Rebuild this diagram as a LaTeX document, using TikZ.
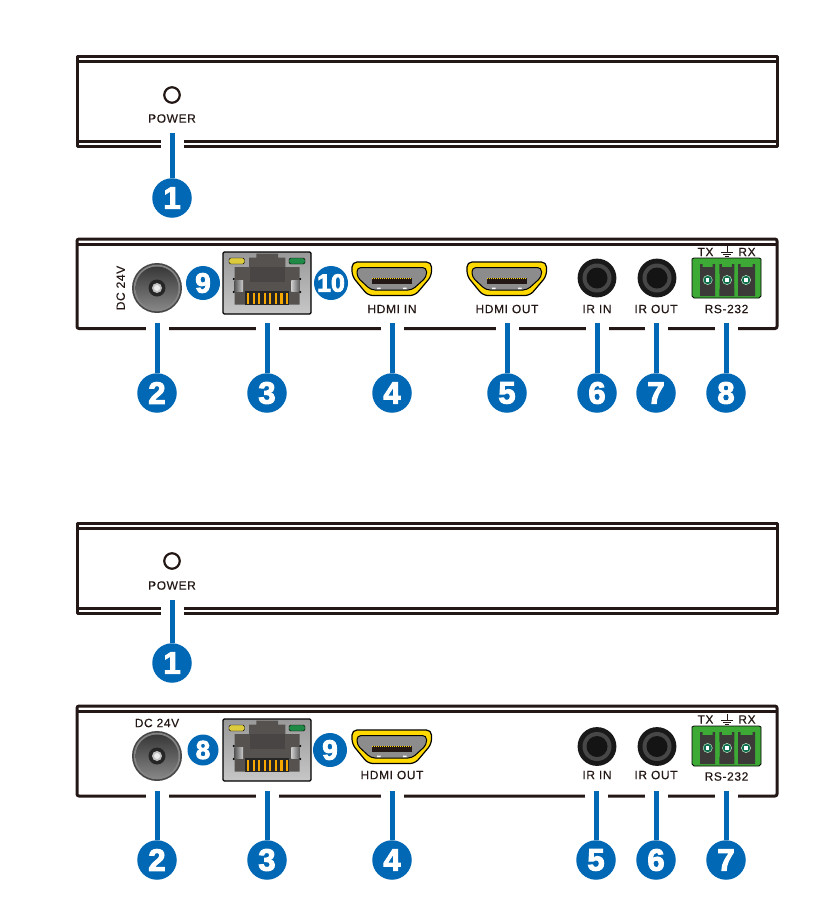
\documentclass[tikz,border=0pt]{standalone}
\usepackage{fontspec}
\setmainfont{Liberation Sans}
\newfontfamily\lblfont[LetterSpace=5,FakeBold=0.35]{Liberation Sans}
\newfontfamily\badgefont[FakeBold=3.2]{Liberation Sans Bold}
\definecolor{inkk}{HTML}{231815}
\definecolor{blu}{HTML}{0068B4}
\definecolor{hdmiy}{HTML}{FFD900}
\definecolor{hdmio}{HTML}{F6A800}
\definecolor{hdmig}{HTML}{8C8C8C}
\definecolor{rjbody}{HTML}{56524F}
\definecolor{rjin}{HTML}{494544}
\definecolor{tgreen}{HTML}{3DAA35}
\definecolor{tdark}{HTML}{3B3A38}
\definecolor{tteal}{HTML}{0E6E50}
\definecolor{ledy}{HTML}{DCCB3C}
\definecolor{ledg}{HTML}{1E8A45}
\tikzset{
  housing/.style={draw=inkk,line width=3pt,line join=round},
  lbl/.style={inner sep=0pt,text=inkk,font=\fontsize{12}{12}\lblfont},
  bigbadge/.style={circle,fill=blu,draw=none,minimum size=39.5pt,inner sep=0pt,text=white,font=\fontsize{31}{31}\badgefont},
  smallbadge/.style={circle,fill=blu,draw=none,minimum size=34pt,inner sep=0pt,text=white,font=\fontsize{28}{28}\badgefont},
  tenbadge/.style={smallbadge,font=\fontsize{25}{25}\badgefont},
  leader/.style={draw=blu,line width=5pt},
  gapline/.style={draw=white,line width=23pt},
  dot/.style={circle,draw=inkk,line width=2.2pt,fill=white,minimum size=15.5pt,inner sep=0pt},
  dcjack/.pic={
    \fill[black!72] (0,0) circle (25);
    \fill[black!48] (0,0) circle (23.3);
    \shade[top color=black!78,bottom color=black!48] (0,0) circle (21.5);
    \fill[black!85] (0,0) circle (8.5);
    \fill[black!25] (0,0) circle (5);
    \fill[black!8] (0,0) circle (3);
  },
  irjack/.pic={
    \fill[black!90] (0,0) circle (19.4);
    \fill[black!72] (0,0) circle (14.5);
    \fill[black!92] (0,0) circle (10.5);
  },
  rjport/.pic={
    \shade[draw=black,line width=1.2pt,rounded corners=1.2pt,top color=black!40,bottom color=black!22] (0,0) rectangle (88,62);
    \fill[rjbody] (11.5,15)--(26,15)--(26,5.7)--(33.3,5.7)--(33.3,1.7)--(55,1.7)--(55,5.7)--(62.3,5.7)--(62.3,15)--(76.7,15)--(76.7,52.7)--(11.5,52.7)--cycle;
    \fill[rjin] (26.7,15) rectangle (61.7,30);
    \shade[left color=black!65,right color=black!20] (11.5,28) rectangle (20,39);
    \shade[left color=black!20,right color=black!65] (68.3,28) rectangle (76.7,39);
    \fill[black] (10.7,27) circle (1.1) (10.7,40) circle (1.1) (77.3,27) circle (1.1) (77.3,40) circle (1.1);
    \fill[black!85] (22,39) rectangle (66,52.7);
    \foreach \k in {0,...,7}{\fill[hdmio] ({24.0+5.55*\k},40.5) rectangle ({26.2+5.55*\k},52);}
    \fill[draw=black,line width=.4pt,fill=ledy,rounded corners=1.5pt] (6,6) rectangle (21.5,12);
    \fill[draw=black,line width=.4pt,fill=ledg,rounded corners=1.5pt] (66,6) rectangle (82,12);
  },
  hdmiport/.pic={
    \shadedraw[draw=black,line width=1.2pt,left color=hdmiy,middle color=hdmio!45!hdmiy,right color=hdmiy,rounded corners=5pt] (0,0)--(79.5,0)--(79.5,14)--(63,33.5)--(16,33.5)--(0,14)--cycle;
    \fill[draw=black,line width=1pt,fill=hdmig,rounded corners=4pt] (5,5.5)--(74.5,5.5)--(74.5,15)--(60,28)--(19,28)--(5,15)--cycle;
    \fill[inkk] (20,16) rectangle (59.5,22);
    \draw[hdmiy,line width=.7pt,dash pattern=on 1pt off 1pt] (20,16)--(59.5,16);
    \fill[white] (25,25.7) rectangle (28.5,27) (51,25.7) rectangle (54.5,27);
  },
  termblock/.pic={
    \fill[draw=black,line width=.8pt,fill=tgreen] (0,1)--(2,0)--(67,0)--(69,1)--(69,38)--(67,40)--(2,40)--(0,38)--cycle;
    \foreach \x/\w/\c in {8/15/15.7,27.3/15/35,46/17/54}{
      \fill[tdark] (\x,6)--({\x+2.5},6)--({\x+2.5},9)--({\x+\w-2.5},9)--({\x+\w-2.5},6)--({\x+\w},6)--({\x+\w},38)--(\x,38)--cycle;
      \fill[tgreen] (\x,30)--({\x+1.5},33)--({\x+\w-1.5},33)--({\x+\w},30)--({\x+\w},16)--(\x,16)--cycle;
      \fill[tdark] ({\x+.4},12)--({\x+\w-.4},12)--({\x+\w-.4},34)--({\x+.4},34)--cycle;
      \fill[tteal,draw=white!65!tgreen,line width=.5pt] (\c,22) circle (4.6);
      \fill[white] (\c-1.6,20.4) rectangle (\c+1.6,23.6);
    }
  }
}
\begin{document}
\begin{tikzpicture}[x=1pt,y=-1pt]
\useasboundingbox (0,0) rectangle (836,903);
\fill[white] (0,0) rectangle (836,903);

% ---------- panel 1
\draw[housing] (77,146)--(77,56)--(777,56)--(777,146)--cycle;
\draw[housing] (77,61.5)--(777,61.5) (77,141)--(777,141);
\node[dot] (led1) at (172,95) {};
\node[lbl] (pw1) at (172,118.5) {POWER};
\coordinate (s1) at (172,133);
\draw[gapline] (172,136)--(172,150);
\node[bigbadge] (b1) at (172,198) {1};
\draw[leader] (s1)--(b1);

% ---------- panel 2
\draw[housing,rounded corners=2pt] (77,239)--(77,328.5)--(777,328.5)--(777,239)--cycle;
\draw[housing] (77,244.5)--(777,244.5);
\pic at (157,288) {dcjack};
\node[lbl,rotate=90] (dc2) at (120.7,288) {DC 24V};
\pic at (223,252) {rjport};
\node[smallbadge] (n9a) at (203,283) {9};
\node[tenbadge] (n10a) at (331,283) {10};
\pic at (352,262) {hdmiport};
\node[lbl] (hi2) at (392,309) {HDMI IN};
\pic at (467,262) {hdmiport};
\node[lbl] (ho2) at (507,309) {HDMI OUT};
\pic at (597,278) {irjack};
\node[lbl] (ii2) at (597,309) {IR IN};
\pic at (657,278) {irjack};
\node[lbl] (io2) at (656,309) {IR OUT};
\pic at (692,258) {termblock};
\node[lbl] (tx2) at (705.5,252) {TX};
\node[lbl] (rx2) at (747,252) {RX};
\coordinate (g2) at (727,246);
\draw[inkk,line width=.8pt] (g2)--++(0,6) ++(-6,0)--++(12,0) ++(-10,2.2)--++(8,0) ++(-6,2.2)--++(4,0);
\node[lbl] (rs2) at (726.5,309) {RS-232};
\foreach \nm/\x/\d in {a2/157/2,a3/267/3,a4/392/4,a5/507/5,a6/597/6,a7/656/7,a8/726/8}{
  \coordinate (s\nm) at (\x,323);
  \draw[gapline] (\x,325)--(\x,333);
  \node[bigbadge] (b\nm) at (\x,393) {\d};
  \draw[leader] (s\nm)--(b\nm);
}

% ---------- panel 3
\draw[housing] (77,613)--(77,523)--(777,523)--(777,613)--cycle;
\draw[housing] (77,528.5)--(777,528.5) (77,608)--(777,608);
\node[dot] (led3) at (172,561) {};
\node[lbl] (pw3) at (172,585.5) {POWER};
\coordinate (s3) at (172,600);
\draw[gapline] (172,603)--(172,617);
\node[bigbadge] (c1) at (172,663) {1};
\draw[leader] (s3)--(c1);

% ---------- panel 4
\draw[housing,rounded corners=2pt] (77,706)--(77,796)--(777,796)--(777,706)--cycle;
\draw[housing] (77,711.5)--(777,711.5);
\pic at (157,756) {dcjack};
\node[lbl] (dc4) at (157,723) {DC 24V};
\pic at (223,719) {rjport};
\node[smallbadge,minimum size=31pt,font=\fontsize{26}{26}\badgefont] (n8b) at (203,750) {8};
\node[smallbadge] (n9b) at (330,750) {9};
\pic at (352,730) {hdmiport};
\node[lbl] (ho4) at (392,775) {HDMI OUT};
\pic at (597,746.5) {irjack};
\node[lbl] (ii4) at (597,775) {IR IN};
\pic at (657,746.5) {irjack};
\node[lbl] (io4) at (656,775) {IR OUT};
\pic at (692,726) {termblock};
\node[lbl] (tx4) at (705.5,719.5) {TX};
\node[lbl] (rx4) at (747,719.5) {RX};
\coordinate (g4) at (727,714);
\draw[inkk,line width=.8pt] (g4)--++(0,6) ++(-6,0)--++(12,0) ++(-10,2.2)--++(8,0) ++(-6,2.2)--++(4,0);
\node[lbl] (rs4) at (726.5,776.5) {RS-232};
\foreach \nm/\x/\d in {c2/157/2,c3/267/3,c4/392/4,c5/596/5,c6/656/6,c7/726/7}{
  \coordinate (s\nm) at (\x,791);
  \draw[gapline] (\x,793)--(\x,801);
  \node[bigbadge] (b\nm) at (\x,860) {\d};
  \draw[leader] (s\nm)--(b\nm);
}
\end{tikzpicture}
\end{document}
